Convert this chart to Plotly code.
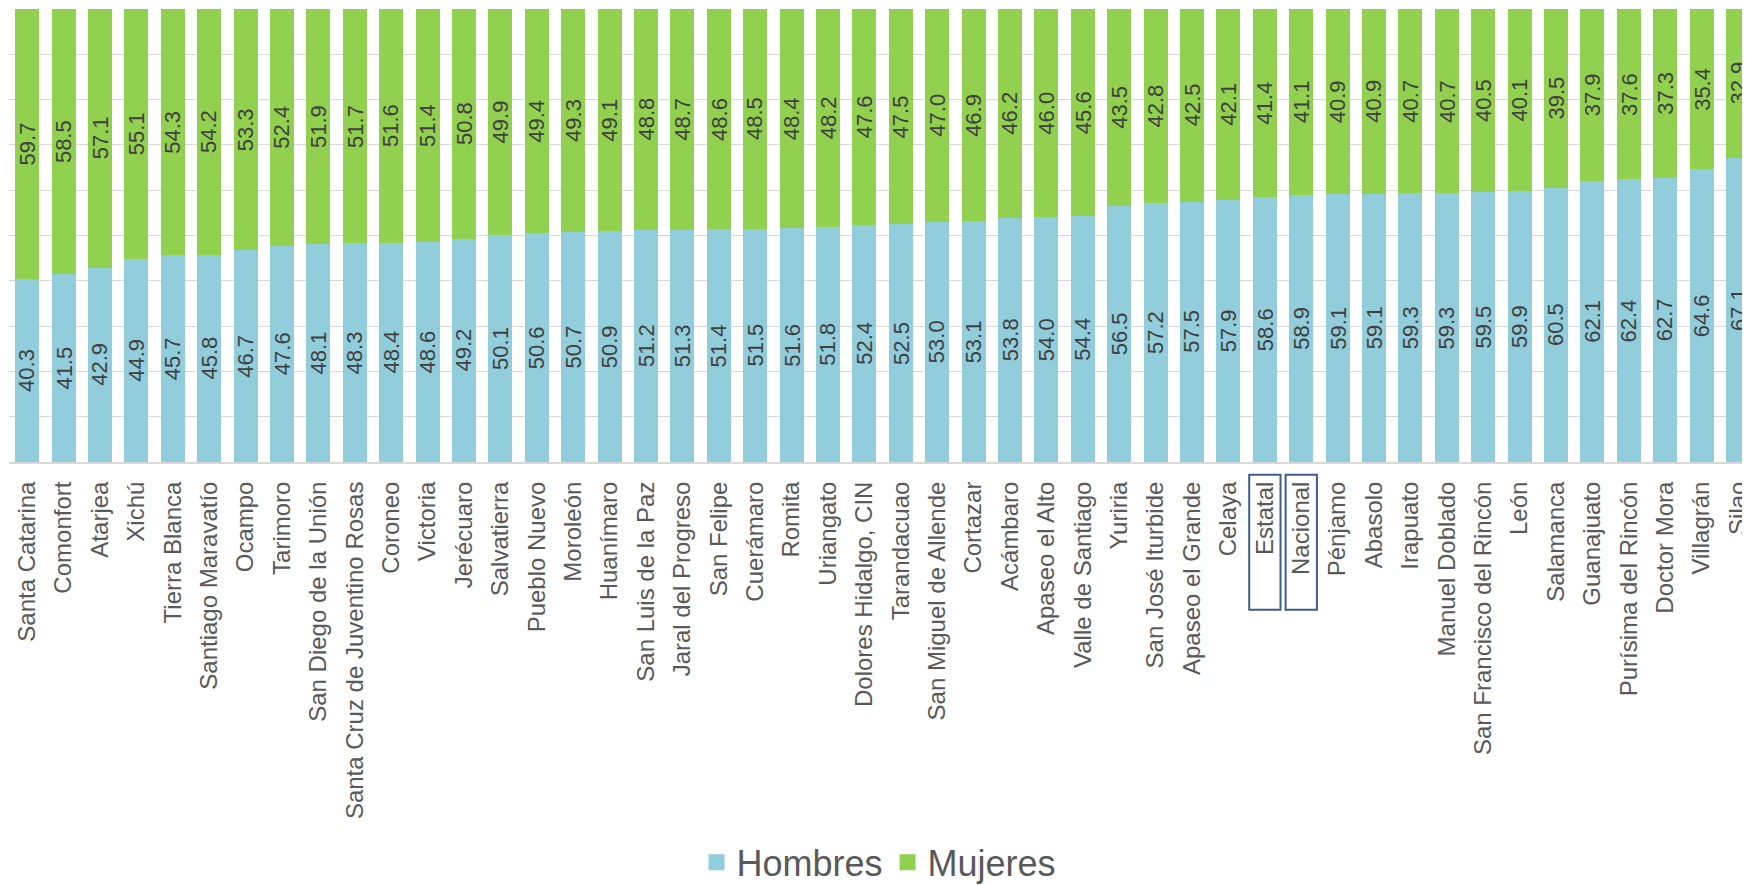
import plotly.graph_objects as go

# Municipios ordenados por porcentaje de hombres
municipios = [
    "Santa Catarina", "Comonfort", "Atarjea", "Xichú", "Tierra Blanca",
    "Santiago Maravatío", "Ocampo", "Tarimoro", "San Diego de la Unión",
    "Santa Cruz de Juventino Rosas", "Coroneo", "Victoria", "Jerécuaro",
    "Salvatierra", "Pueblo Nuevo", "Moroleón", "Huanímaro", "San Luis de la Paz",
    "Jaral del Progreso", "San Felipe", "Cuerámaro", "Romita", "Uriangato",
    "Dolores Hidalgo, CIN", "Tarandacuao", "San Miguel de Allende", "Cortazar",
    "Acámbaro", "Apaseo el Alto", "Valle de Santiago", "Yuriria",
    "San José Iturbide", "Apaseo el Grande", "Celaya", "Estatal", "Nacional",
    "Pénjamo", "Abasolo", "Irapuato", "Manuel Doblado", "San Francisco del Rincón",
    "León", "Salamanca", "Guanajuato", "Purísima del Rincón", "Doctor Mora",
    "Villagrán", "Silao",
]

hombres = [
    40.3, 41.5, 42.9, 44.9, 45.7, 45.8, 46.7, 47.6, 48.1, 48.3, 48.4, 48.6,
    49.2, 50.1, 50.6, 50.7, 50.9, 51.2, 51.3, 51.4, 51.5, 51.6, 51.8, 52.4,
    52.5, 53.0, 53.1, 53.8, 54.0, 54.4, 56.5, 57.2, 57.5, 57.9, 58.6, 58.9,
    59.1, 59.1, 59.3, 59.3, 59.5, 59.9, 60.5, 62.1, 62.4, 62.7, 64.6, 67.1,
]

mujeres = [
    59.7, 58.5, 57.1, 55.1, 54.3, 54.2, 53.3, 52.4, 51.9, 51.7, 51.6, 51.4,
    50.8, 49.9, 49.4, 49.3, 49.1, 48.8, 48.7, 48.6, 48.5, 48.4, 48.2, 47.6,
    47.5, 47.0, 46.9, 46.2, 46.0, 45.6, 43.5, 42.8, 42.5, 42.1, 41.4, 41.1,
    40.9, 40.9, 40.7, 40.7, 40.5, 40.1, 39.5, 37.9, 37.6, 37.3, 35.4, 32.9,
]

resaltados = ["Estatal", "Nacional"]

color_h = "#92CDDC"
color_m = "#92D050"
font_family = "Liberation Sans, Arial, sans-serif"

fig = go.Figure()

for nombre, valores, color in [("Hombres", hombres, color_h), ("Mujeres", mujeres, color_m)]:
    fig.add_trace(go.Bar(
        x=municipios, y=valores, name=nombre,
        marker=dict(color=color, line=dict(width=0)),
        showlegend=False, cliponaxis=False,
    ))
    # entrada de leyenda con cuadro mas grande
    fig.add_trace(go.Scatter(
        x=[None], y=[None], mode="markers", name=nombre,
        marker=dict(symbol="square", size=16, color=color),
    ))

# etiquetas de valor centradas en cada segmento (sin reescalado automatico)
for m, h, mu in zip(municipios, hombres, mujeres):
    for y, v in [(h / 2, h), (h + mu / 2, mu)]:
        fig.add_annotation(
            x=m, y=y, text=f"{v:.1f}", showarrow=False, textangle=-90,
            font=dict(size=22, color="#404040", family=font_family),
        )

# recuadros de Estatal y Nacional
for r in resaltados:
    i = municipios.index(r)
    fig.add_shape(
        type="rect", xref="x", yref="paper",
        x0=i - 0.43, x1=i + 0.43, y0=-0.028, y1=-0.326,
        line=dict(color="#3B5E8C", width=2),
    )

# la pagina agrega ~8px de margen, por eso los margenes son pequenos
fig.update_layout(
    width=1750, height=885,
    barmode="stack", bargap=0.34,
    plot_bgcolor="white", paper_bgcolor="white",
    margin=dict(l=1, r=9, t=1, b=427),
    font=dict(family=font_family, color="#595959"),
    legend=dict(
        orientation="h", x=0.5, xanchor="center", y=-0.884, yanchor="middle",
        font=dict(size=36, color="#595959"), itemwidth=30, traceorder="normal",
    ),
)

fig.update_xaxes(
    range=[-0.5, 47.3], tickangle=-90, tickfont=dict(size=24, color="#595959"),
    showline=True, linecolor="#D9D9D9", linewidth=2, ticks="", showgrid=False,
    ticklabelstandoff=8, automargin=False,
)
fig.update_yaxes(
    range=[0, 100], dtick=10, showticklabels=False, gridcolor="#D9D9D9",
    gridwidth=1, zeroline=False, showline=False, automargin=False,
)

fig.write_html("out.html")
